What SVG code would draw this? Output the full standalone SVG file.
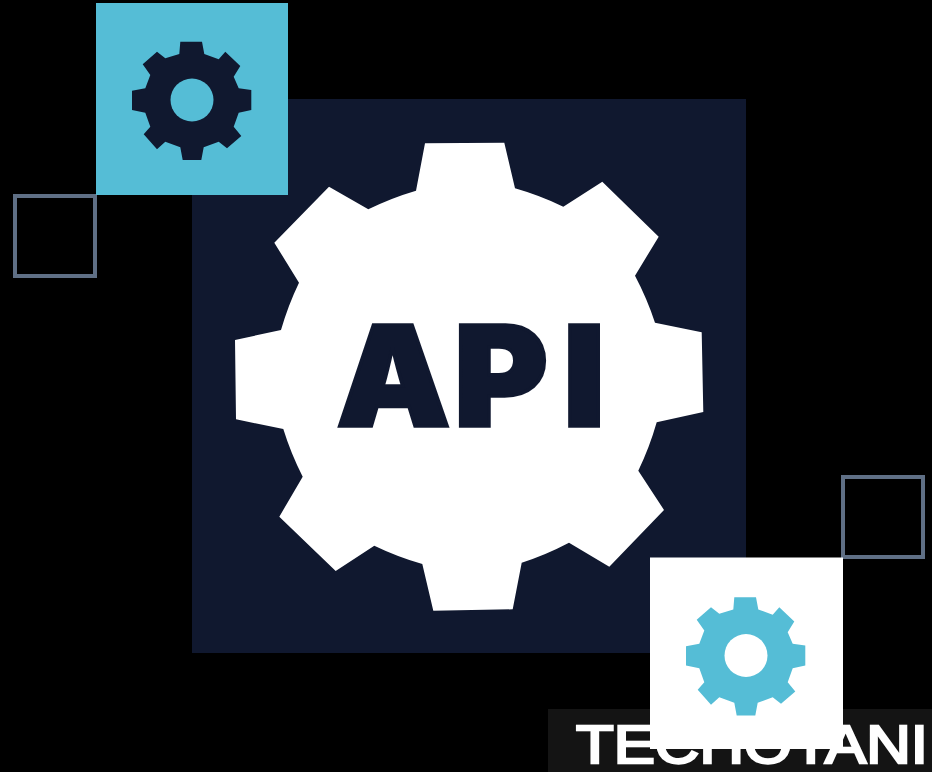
<svg xmlns="http://www.w3.org/2000/svg" width="932" height="772" viewBox="0 0 932 772">
<style>
.frame{fill:none;stroke:#5f6f85;stroke-width:4}
.navy{fill:#10182f}
.cyan{fill:#55bdd6}
.white{fill:#ffffff}
</style>
<defs>
<path id="gear" d="M-11.7,-58.3L10,-58.3L12.3,-46L26.7,-40.7L33.3,-48.3L48.3,-34L41.7,-23.3L46.7,-11.7L59.3,-10L59.3,10L46.7,12.7L41.7,26.7L49.3,36L35,48.3L26.7,41.7L11.7,47.3L9.3,60L-9.3,60L-11.7,47.3L-26.7,41.7L-35,49.3L-48.3,34.3L-41.7,26.7L-46.7,12.7L-60,10L-60,-9.3L-46.7,-11.7L-41.7,-25L-49.3,-35.7L-35,-48.3L-26.7,-41.7L-12.7,-46Z"/>
</defs>
<rect width="932" height="772" fill="#000000"/>
<g id="watermark">
<rect x="548" y="709" width="384" height="63" fill="#141414"/>
<text x="576" y="762.8" font-family="'Liberation Sans',Arial,sans-serif" font-size="53.5" fill="#ffffff" stroke="#ffffff" stroke-width="2.5" textLength="352" lengthAdjust="spacingAndGlyphs">TECHOTANI</text>
</g>
<g id="api-panel">
<rect class="navy" x="192" y="99" width="554" height="554"/>
<path class="white" d="M425,143.3L504.3,142.7L515,188.3A300,300 0 0 1 563.3,206.7L602.3,181.7L658.7,236.7L635,275.7A300,300 0 0 1 655,322.7L701.7,332.3L703.3,412L656.7,422.3A300,300 0 0 1 638.3,470.7L664,510L609.3,566.7L569,542.7A300,300 0 0 1 521.7,562.7L512.7,609.3L433.3,610.7L422.3,564A300,300 0 0 1 374.3,545.7L335.7,571L279.3,516.7L302.7,476.7A300,300 0 0 1 283.3,429L236,419.3L235,340L281,330A300,300 0 0 1 299,282.7L274.3,242.7L329,186.7L368.3,209.3A300,300 0 0 1 416,190.7Z"/>
<text x="337 451 557" y="426.5" font-family="Inter,'Liberation Sans',sans-serif" font-weight="900" font-size="139" fill="#10182f" stroke="#10182f" stroke-width="3.5" transform="translate(-10.5 0) scale(1.03 1)">API</text>
</g>
<g id="frame-top-left"><rect class="frame" x="15" y="196" width="80" height="80"/></g>
<g id="frame-bottom-right"><rect class="frame" x="843" y="477" width="80" height="80"/></g>
<g id="card-top">
<rect class="cyan" x="96" y="3" width="192" height="192"/>
<use href="#gear" x="192" y="100" class="navy"/>
<circle class="cyan" cx="192" cy="100" r="21.5"/>
</g>
<g id="card-bottom">
<rect class="white" x="650" y="557.5" width="193" height="191.5"/>
<use href="#gear" x="746" y="655.5" class="cyan"/>
<circle class="white" cx="746" cy="655.5" r="21.5"/>
</g>
</svg>
